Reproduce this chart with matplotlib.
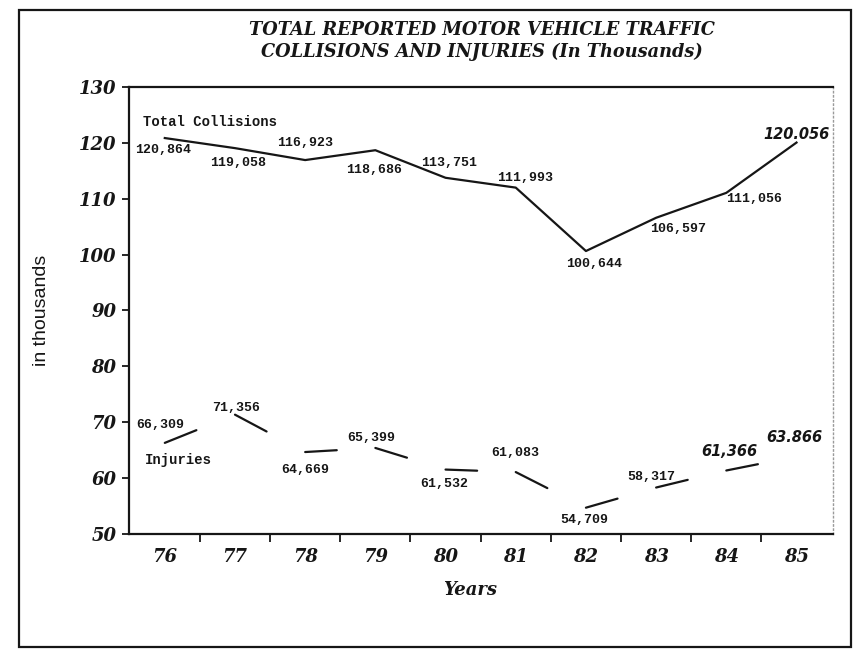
import matplotlib
matplotlib.use("Agg")
import matplotlib.pyplot as plt
from matplotlib.patches import Rectangle

# data (thousands)
years = ["76", "77", "78", "79", "80", "81", "82", "83", "84", "85"]
collisions = [120.864, 119.058, 116.923, 118.686, 113.751, 111.993, 100.644, 106.597, 111.056, 120.056]
injuries = [66.309, 71.356, 64.669, 65.399, 61.532, 61.083, 54.709, 58.317, 61.366, 63.866]
collision_labels = ["120,864", "119,058", "116,923", "118,686", "113,751",
                    "111,993", "100,644", "106,597", "111,056", "120.056"]
injury_labels = ["66,309", "71,356", "64,669", "65,399", "61,532",
                 "61,083", "54,709", "58,317", "61,366", "63.866"]
y_ticks = [50, 60, 70, 80, 90, 100, 110, 120, 130]

# label offsets in pixels (layout only)
coll_off = [(-2, -12), (3, -15), (0, 17), (-1, -20), (4, 15),
            (9, 10), (8, -13), (22, -11), (28, -6), (0, 8)]
inj_off = [(-5, 18), (1, 7), (0, -18), (-4, 10), (-1, -14),
           (0, 19), (-2, -12), (-5, 11), (3, 19), (-2, 19)]
handwritten = {("c", 9), ("i", 8), ("i", 9)}

ink = "#161616"
serif_bi = dict(family="DejaVu Serif", style="italic", weight="bold")
mono = dict(family="Liberation Mono", weight="bold")
hand = dict(family="DejaVu Sans", style="italic", weight="bold", fontsize=10.5)

fig = plt.figure(figsize=(8.56, 6.5), dpi=100)
ax = fig.add_axes([129 / 856, 1 - 534 / 650, 704 / 856, 447 / 650])

x = list(range(len(years)))
ax.plot(x, collisions, color=ink, lw=1.6, solid_joinstyle="round")

# injuries line appears as broken strokes leaving each point
for i in range(len(x) - 1):
    xe = x[i] + 0.45 * (x[i + 1] - x[i])
    ye = injuries[i] + 0.45 * (injuries[i + 1] - injuries[i])
    ax.plot([x[i], xe], [injuries[i], ye], color=ink, lw=1.6, solid_capstyle="round")

for i in x:
    kw = hand if ("c", i) in handwritten else dict(mono, fontsize=9.5)
    ax.annotate(collision_labels[i], (i, collisions[i]), xytext=coll_off[i],
                textcoords="offset pixels", ha="center", va="center", color=ink, **kw)
    kw = hand if ("i", i) in handwritten else dict(mono, fontsize=9.5)
    ax.annotate(injury_labels[i], (i, injuries[i]), xytext=inj_off[i],
                textcoords="offset pixels", ha="center", va="center", color=ink, **kw)

ax.text(0.02, 0.922, "Total Collisions", transform=ax.transAxes, ha="left",
        va="center", fontsize=10, color=ink, **mono)
ax.text(0.0696, 0.1655, "Injuries", transform=ax.transAxes, ha="center",
        va="center", fontsize=10, color=ink, **mono)

ax.set_xlim(-0.51, 9.52)
ax.set_ylim(50, 130)
ax.set_yticks(y_ticks)
ax.set_yticklabels([str(t) for t in y_ticks], fontsize=13, color=ink, **serif_bi)
ax.set_xticks(x)
ax.set_xticklabels(years, fontsize=13, color=ink, **serif_bi)
ax.set_xticks([i + 0.5 for i in range(len(x) - 1)], minor=True)
ax.tick_params(axis="x", which="major", length=0, pad=10)
ax.tick_params(axis="x", which="minor", length=6, width=1.3, direction="out", color=ink)
ax.tick_params(axis="y", length=5, width=1.3, direction="out", pad=4, color=ink)

for s in ["left", "top", "bottom"]:
    ax.spines[s].set_linewidth(1.6)
    ax.spines[s].set_color(ink)
ax.spines["right"].set_linestyle((0, (1, 2)))
ax.spines["right"].set_color("#9a9a9a")
ax.spines["right"].set_linewidth(1.0)

fig.text(0.563, 0.937, "TOTAL REPORTED MOTOR VEHICLE TRAFFIC\nCOLLISIONS AND INJURIES (In Thousands)",
         ha="center", va="center", fontsize=12.8, linespacing=1.3, color=ink, **serif_bi)
fig.text(0.549, 0.092, "Years", ha="center", va="center", fontsize=13, color=ink, **serif_bi)
fig.text(0.049, 0.523, "in thousands", ha="center", va="center", rotation=90,
         fontsize=14, family="Liberation Sans", color=ink)

fig.patches.append(Rectangle((19 / 856, 1 - 647 / 650), 832 / 856, 637 / 650,
                             transform=fig.transFigure, fill=False, lw=1.6,
                             edgecolor=ink))

fig.savefig("out.png", dpi=100)
